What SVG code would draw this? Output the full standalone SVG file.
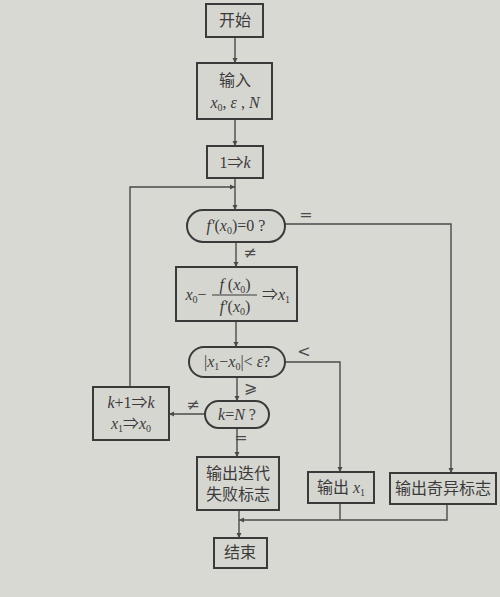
<svg xmlns="http://www.w3.org/2000/svg" width="500" height="597" viewBox="0 0 500 597">
<style>
.n{fill:#d6d6d1;stroke:#3a3a3a;stroke-width:2}
.c{fill:none;stroke:#4a4a4a;stroke-width:1.4}
.t{font-family:"Liberation Serif","Noto Sans CJK SC",serif;font-size:16px;fill:#3a3a3a;text-anchor:middle}
.i{font-style:italic}
.s{font-size:10px}
.l{font-family:"DejaVu Serif","Liberation Serif",serif;font-size:16px;fill:#4a4a4a;text-anchor:middle}
</style>
<defs>
<marker id="a" viewBox="0 0 10 10" refX="10" refY="5" markerWidth="5" markerHeight="12" orient="auto" markerUnits="userSpaceOnUse">
<path d="M0,0 L10,5 L0,10 Z" fill="#4a4a4a"/>
</marker>
</defs>
<rect width="500" height="597" fill="#d9d9d4"/>
<g id="connectors">
<path class="c" d="M235,37 V63" marker-end="url(#a)"/>
<path class="c" d="M235,119 V146" marker-end="url(#a)"/>
<path class="c" d="M235,178 V210" marker-end="url(#a)"/>
<path class="c" d="M236,242 V267" marker-end="url(#a)"/>
<path class="c" d="M236,321 V347" marker-end="url(#a)"/>
<path class="c" d="M237,377 V401" marker-end="url(#a)"/>
<path class="c" d="M237,428 V457" marker-end="url(#a)"/>
<path class="c" d="M239,510 V538" marker-end="url(#a)"/>
<path class="c" d="M205,414 H169" marker-end="url(#a)"/>
<path class="c" d="M130,387 V187 H235" marker-end="url(#a)"/>
<path class="c" d="M285,224 H451 V473" marker-end="url(#a)"/>
<path class="c" d="M285,362 H340 V472" marker-end="url(#a)"/>
<path class="c" d="M447,504 V520 H239" marker-end="url(#a)"/>
<path class="c" d="M340,503 V520"/>
<text class="l" x="306" y="220">=</text>
<text class="l" x="250" y="258">≠</text>
<text class="l" x="304" y="357">&lt;</text>
<text class="l" x="250" y="393">⩾</text>
<text class="l" x="193" y="410">≠</text>
<text class="l" x="241" y="443">=</text>
</g>
<g id="start"><rect class="n" x="206" y="4" width="57" height="33"/><text class="t" x="235" y="26">开始</text></g>
<g id="input"><rect class="n" x="197" y="63" width="75" height="56"/><text class="t" x="235" y="86">输入</text><text class="t" x="235" y="108"><tspan class="i">x</tspan><tspan class="s" dy="3">0</tspan><tspan dy="-3">, </tspan><tspan class="i">ε</tspan> , <tspan class="i">N</tspan></text></g>
<g id="init"><rect class="n" x="207" y="146" width="56" height="32"/><text class="t" x="235" y="168">1⇒<tspan class="i">k</tspan></text></g>
<g id="deriv"><rect class="n" x="187" y="210" width="98" height="32" rx="16"/><text class="t" x="236" y="231"><tspan class="i">f′</tspan>(<tspan class="i">x</tspan><tspan class="s" dy="3">0</tspan><tspan dy="-3">)=0 ?</tspan></text></g>
<g id="newton"><rect class="n" x="176" y="267" width="121" height="54"/>
<text class="t" x="196" y="300"><tspan class="i">x</tspan><tspan class="s" dy="3">0</tspan><tspan dy="-3">−</tspan></text>
<text class="t" x="235" y="290"><tspan class="i">f</tspan> (<tspan class="i">x</tspan><tspan class="s" dy="3">0</tspan><tspan dy="-3">)</tspan></text>
<line x1="212" y1="295" x2="257" y2="295" stroke="#3a3a3a" stroke-width="1"/>
<text class="t" x="235" y="312"><tspan class="i">f′</tspan>(<tspan class="i">x</tspan><tspan class="s" dy="3">0</tspan><tspan dy="-3">)</tspan></text>
<text class="t" x="276" y="300">⇒<tspan class="i">x</tspan><tspan class="s" dy="3">1</tspan></text></g>
<g id="conv"><rect class="n" x="189" y="347" width="96" height="30" rx="15"/><text class="t" x="237" y="367">|<tspan class="i">x</tspan><tspan class="s" dy="3">1</tspan><tspan dy="-3">−</tspan><tspan class="i">x</tspan><tspan class="s" dy="3">0</tspan><tspan dy="-3">|&lt; </tspan><tspan class="i">ε</tspan>?</text></g>
<g id="count"><rect class="n" x="205" y="401" width="64" height="27" rx="13.5"/><text class="t" x="237" y="420"><tspan class="i">k</tspan>=<tspan class="i">N</tspan> ?</text></g>
<g id="update"><rect class="n" x="93" y="387" width="76" height="53"/><text class="t" x="131" y="408"><tspan class="i">k</tspan>+1⇒<tspan class="i">k</tspan></text><text class="t" x="131" y="429"><tspan class="i">x</tspan><tspan class="s" dy="3">1</tspan><tspan dy="-3">⇒</tspan><tspan class="i">x</tspan><tspan class="s" dy="3">0</tspan></text></g>
<g id="fail"><rect class="n" x="197" y="457" width="82" height="53"/><text class="t" x="238" y="479">输出迭代</text><text class="t" x="238" y="500">失败标志</text></g>
<g id="outx"><rect class="n" x="308" y="472" width="66" height="31"/><text class="t" x="341" y="493">输出  <tspan class="i">x</tspan><tspan class="s" dy="3">1</tspan></text></g>
<g id="singular"><rect class="n" x="390" y="473" width="106" height="31"/><text class="t" x="443" y="494">输出奇异标志</text></g>
<g id="end"><rect class="n" x="214" y="538" width="53" height="30"/><text class="t" x="240" y="558">结束</text></g>
</svg>
